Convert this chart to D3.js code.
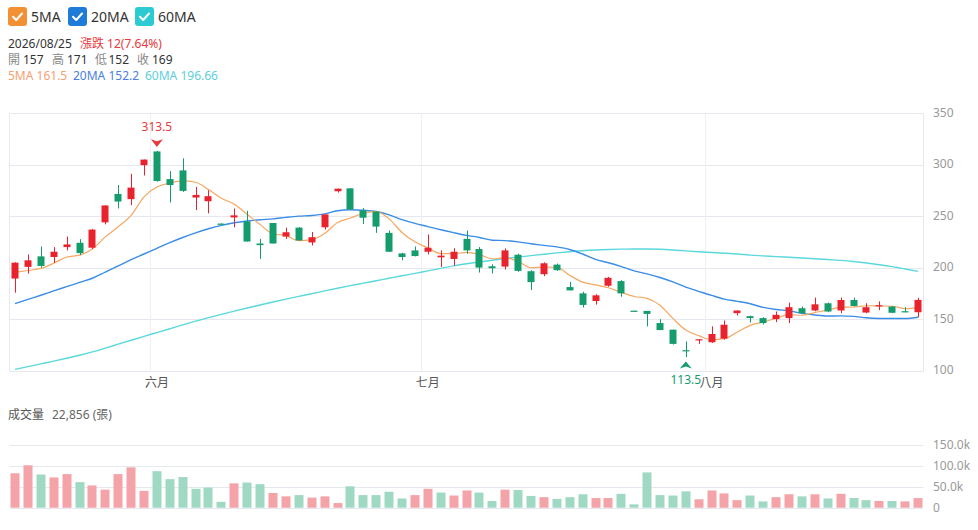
<!DOCTYPE html>
<html><head><meta charset="utf-8">
<script src="https://cdn.jsdelivr.net/npm/d3@7/dist/d3.min.js"></script>
<style>
html,body{margin:0;padding:0;background:#fff;}
svg{display:block;font-family:"Noto Sans","Noto Sans CJK TC",sans-serif;}
</style></head><body>
<svg id="c" width="978" height="530"></svg>
<script>
// ---- data ----
const lastDate = "2026/08/25";
const openV  = [189.7,201,211.2,210.6,220.2,224.4,219.6,244.2,271.8,266.7,299.7,313,286.2,294.6,268.3,264.7,243,249,245.2,223.7,243.6,230.4,239.1,224.7,239.4,274.4,277.2,255.8,254.8,234,214.1,217,215.7,210.3,208.7,228.2,218.3,201.6,201.3,212.8,196.8,193.9,203.2,181.4,175.3,167.9,182.7,187.2,158.5,158.3,146.5,140.1,120.2,130.1,127.9,131.4,156.1,153.2,151.3,150.3,151.3,160.9,158.7,165.7,158.7,168.9,156.7,162.8,162.5,158,157];
const highV  = [205.5,213,220.8,220.2,230.4,227.9,237.8,260.6,280.4,291.3,305.1,313.5,293.9,306.4,278.5,275.3,243.3,257.7,255.4,228.2,243.6,239.1,239.7,234.9,251.9,276.9,277.2,258,254.8,236.2,214.7,220.8,232.4,217,219.2,236.2,220.2,203.5,218.9,213.8,197.8,205.4,204.2,186.5,176.9,174.4,191.3,188.1,158.6,158.3,150.3,140.1,128.8,130.8,143.3,149,158.7,153.8,152.2,157.7,166.3,162.5,171.2,166.3,171.2,171.2,165.7,167.6,163.1,161.9,171];
const lowV   = [176,194.5,200.3,204.8,217,212.5,218.3,242.3,257.7,260.9,289.7,283.7,263.5,273.7,256.1,252.9,242.3,239.4,225.6,208.7,223.7,228.2,226.6,221.8,237.2,273.1,256.7,242.6,234,215.7,207.4,211.2,213.1,201,202.2,213.8,195.5,194.6,198.4,196.2,178.5,192,197.1,178.2,161.5,164.4,181.7,172.1,158.1,143.3,139.7,125.6,113.5,126.3,127.2,130.4,153.8,147.1,145.2,147.4,146.5,155.4,158,157,156.1,162.5,156.1,159,156.1,157,152];
const closeV = [205.1,207.4,201.9,215.7,222.8,214.4,237.2,260.6,264.4,277.9,305.1,284.3,280.4,274.7,270.8,269.6,242.5,251,225.6,222.1,223.7,234.6,226.6,229.8,251.9,276.9,256.7,248.7,240.1,215.7,210.6,211.5,219.6,211.9,215.7,217,200.3,199.7,217,197.1,186.2,204.5,197.8,178.2,164.1,173.4,190.4,175.3,158.2,155.4,139.7,126.3,119.2,130.8,135.9,144.9,158.7,151.3,146.5,154.5,161.9,156.1,164.7,157.7,168.9,163.1,161.9,163.8,156.5,157,169];
const volumeK = [82,101,79,72,80,61,53,43,80,96,40,87,68,73,45,48,14,58,60,56,35,27,30,24,27,11,51,30,30,38,22,30,45,36,29,41,36,16,43,42,28,25,21,25,32,23,23,33,8,84,30,29,39,20,41,34,18,29,15,25,32,27,32,22,33,23,18,16,16,15,22.856];
const ma5  = [195.7,197.5,199.5,204.5,210.6,212.4,218.4,230.1,239.9,250.9,269.0,278.5,282.4,284.5,283.1,276.0,267.6,261.7,251.9,242.2,233.0,231.4,226.5,227.4,233.3,244.0,248.4,252.8,254.9,247.6,234.4,225.3,219.5,213.9,213.9,215.1,212.9,208.9,209.9,206.2,200.1,200.9,200.5,192.8,186.2,183.6,180.8,176.3,172.3,170.5,163.8,151.0,139.8,134.3,130.4,131.4,137.9,144.3,147.5,151.2,154.6,154.1,156.7,159.0,161.9,162.1,163.3,163.1,162.8,160.5,161.5];
const ma20 = [165.4,169.5,173.5,177.7,181.8,185.9,190.0,196.0,202.0,208.0,213.5,219.0,224.5,229.5,234.0,238.0,241.3,243.8,245.5,246.7,247.6,249.0,250.2,250.9,252.4,255.5,256.5,255.9,254.7,251.5,246.8,243.2,240.1,237.0,234.2,231.6,229.5,226.9,226.5,225.3,223.4,221.9,220.4,217.9,213.5,208.3,205.0,201.3,197.2,194.2,190.7,186.4,181.4,177.3,173.3,169.7,167.6,165.2,161.7,159.6,158.4,155.9,154.3,153.3,153.5,153.0,151.6,151.0,150.9,151.0,152.2];
const ma60 = [101.6,104.2,106.9,109.6,112.4,115.3,118.5,122.2,126.0,129.8,133.6,137.3,141.0,144.7,148.4,151.8,155.0,158.1,161.1,164.0,166.9,169.7,172.4,175.0,177.7,180.3,182.8,185.2,187.6,190.0,192.4,194.7,197.1,199.5,202.0,204.0,205.8,207.5,209.1,210.5,211.9,213.3,214.6,215.7,216.7,217.4,217.9,218.2,218.4,218.4,218.1,217.4,216.5,215.7,215.0,214.3,213.5,212.4,211.7,211.0,210.3,209.6,208.9,208.1,207.3,206.2,204.8,203.1,201.2,199.0,196.66];
const monthTicks = [{label:"六月", index:11},{label:"七月", index:32},{label:"八月", index:54}];
const priceTicks = [100,150,200,250,300,350];
const volumeTicks = [0,50000,100000,150000];
const maNames = ["5MA","20MA","60MA"];

// ---- styles ----
const C = {
  up:"#e8232e", down:"#149c6c", volUp:"#f4a3a8", volDown:"#9fd9c4",
  grid:"#e6e8ef", axisText:"#999", text:"#333", label:"#888",
  legend:["#f39033","#1f7bd8","#2ccbd4"],
  line:["#f6a760","#3a8de6","#5ad8dc"],
  info:["#f7a072","#4a80e0","#5ccfdc"]
};

const n = closeV.length;
const data = d3.range(n).map(i => ({
  i, o:openV[i], h:highV[i], l:lowV[i], c:closeV[i], v:volumeK[i]*1000,
  volUp: i===0 ? closeV[i]>=openV[i] : closeV[i]>=closeV[i-1]
}));

const svg = d3.select("#c");
const left = 9.5, right = 923.5;
const x = d3.scaleLinear().domain([0, n-1]).range([15, 918]);
const yP = d3.scaleLinear().domain([100,350]).range([371,113.3]);
const yV = d3.scaleLinear().domain([0,150000]).range([507.7,444.7]);
const px = v => Math.round(v) + 0.5;

// ---- legend ----
const legX = [8, 68, 135], legTX = [31, 91, 158];
maNames.forEach((nm, k) => {
  const g = svg.append("g").attr("transform", `translate(${legX[k]},7)`);
  g.append("rect").attr("width",19).attr("height",19).attr("rx",3).attr("fill",C.legend[k]);
  g.append("path").attr("d","M5,9.8 L8.2,13 L14,6.5").attr("fill","none")
    .attr("stroke","#fff").attr("stroke-width",2).attr("stroke-linecap","round").attr("stroke-linejoin","round");
  svg.append("text").attr("x",legTX[k]).attr("y",22).attr("font-size",14).attr("fill",C.text).text(nm);
});

// ---- info block ----
const last = data[n-1];
const chg = last.c - last.o;
const info = svg.append("g").attr("font-size",12);
info.append("text").attr("x",8).attr("y",48).attr("fill",C.text).text(lastDate);
info.append("text").attr("x",80).attr("y",48).attr("fill","#e8383d")
  .text(`漲跌 ${d3.format(".0f")(chg)}(${(chg/last.o*100).toFixed(2)}%)`);
const ohlc = [["開",last.o,8,23],["高",last.h,52,67],["低",last.l,95,108.5],["收",last.c,137,152]];
ohlc.forEach(([lab,val,lx,vx]) => {
  info.append("text").attr("x",lx).attr("y",64).attr("fill",C.label).text(lab);
  info.append("text").attr("x",vx).attr("y",64).attr("fill",C.text).text(d3.format(".0f")(val));
});
const maLast = [ma5[n-1], ma20[n-1], ma60[n-1]];
[8,73,145].forEach((tx,k) => {
  info.append("text").attr("x",tx).attr("y",80).attr("fill",C.info[k]).text(`${maNames[k]} ${maLast[k]}`);
});

// ---- price pane grid ----
const grid = svg.append("g");
priceTicks.forEach(t => {
  grid.append("line").attr("x1",left).attr("x2",right).attr("y1",px(yP(t))).attr("y2",px(yP(t)))
    .attr("stroke",C.grid).attr("stroke-width",1);
  svg.append("text").attr("x",933).attr("y",yP(t)-1).attr("dy","0.35em").attr("font-size",12)
    .attr("fill",C.axisText).text(t);
});
[left,right].forEach(xx => grid.append("line").attr("x1",xx).attr("x2",xx)
  .attr("y1",px(yP(350))).attr("y2",px(yP(100))).attr("stroke",C.grid));
monthTicks.forEach(m => {
  const xx = px(x(m.index-0.5));
  grid.append("line").attr("x1",xx).attr("x2",xx).attr("y1",px(yP(350))).attr("y2",px(yP(100)))
    .attr("stroke","#eef0f4");
  svg.append("text").attr("x",x(m.index)).attr("y",387).attr("text-anchor","middle")
    .attr("font-size",12).attr("fill","#555").text(m.label);
});

// ---- MA lines ----
[ma60, ma20, ma5].forEach((arr, j) => {
  const k = 2-j;
  const line = d3.line().x((d,i)=>x(i)).y(d=>yP(d)).curve(d3.curveMonotoneX);
  svg.append("path").attr("d",line(arr)).attr("fill","none").attr("stroke",C.line[k])
    .attr("stroke-width", k===0 ? 1.2 : 1.4);
});

// ---- candles ----
const cg = svg.append("g");
data.forEach(d => {
  const up = d.c >= d.o;
  const col = up ? C.up : C.down;
  const cx = px(x(d.i));
  cg.append("line").attr("x1",cx).attr("x2",cx).attr("y1",yP(d.h)).attr("y2",yP(d.l))
    .attr("stroke",col).attr("stroke-width",1);
  const top = yP(Math.max(d.o,d.c)), bot = yP(Math.min(d.o,d.c));
  cg.append("rect").attr("x",Math.round(x(d.i))-3.5).attr("width",7)
    .attr("y",top).attr("height",Math.max(1.2, bot-top)).attr("fill",col);
});

// ---- extreme markers ----
let hiI = d3.maxIndex(highV), loI = d3.minIndex(lowV);
const hx = x(hiI), hy = yP(highV[hiI]);
svg.append("path").attr("d",`M${hx-6},${hy-11.6} L${hx},${hy-9.6} L${hx+6},${hy-11.6} L${hx},${hy-4} Z`).attr("fill","#e8383d");
svg.append("text").attr("x",hx).attr("y",hy-19.5).attr("text-anchor","middle").attr("font-size",12)
  .attr("fill","#e8383d").text(highV[hiI]);
const lx = x(loI), ly = yP(lowV[loI]);
svg.append("path").attr("d",`M${lx-6},${ly+11.4} L${lx},${ly+9.4} L${lx+6},${ly+11.4} L${lx},${ly+4.4} Z`).attr("fill",C.down);
svg.append("text").attr("x",lx).attr("y",ly+26.5).attr("text-anchor","middle").attr("font-size",12)
  .attr("fill",C.down).text(lowV[loI]);

// ---- volume pane ----
const vt = svg.append("g").attr("font-size",12);
vt.append("text").attr("x",8).attr("y",419).attr("fill","#555").text("成交量");
vt.append("text").attr("x",52).attr("y",419).attr("fill","#666").text(`${d3.format(",")(Math.round(last.v))} (張)`);
volumeTicks.forEach(t => {
  svg.append("line").attr("x1",left).attr("x2",right).attr("y1",px(yV(t))).attr("y2",px(yV(t)))
    .attr("stroke",C.grid);
  svg.append("text").attr("x",933).attr("y",yV(t)).attr("dy","0.35em").attr("font-size",12)
    .attr("fill",C.axisText).text(t===0 ? "0" : (t/1000).toFixed(1)+"k");
});
data.forEach(d => {
  svg.append("rect").attr("x",Math.round(x(d.i))-4.5).attr("width",9)
    .attr("y",yV(d.v)).attr("height",yV(0)-yV(d.v))
    .attr("fill", d.volUp ? C.volUp : C.volDown);
});
</script>
</body></html>
